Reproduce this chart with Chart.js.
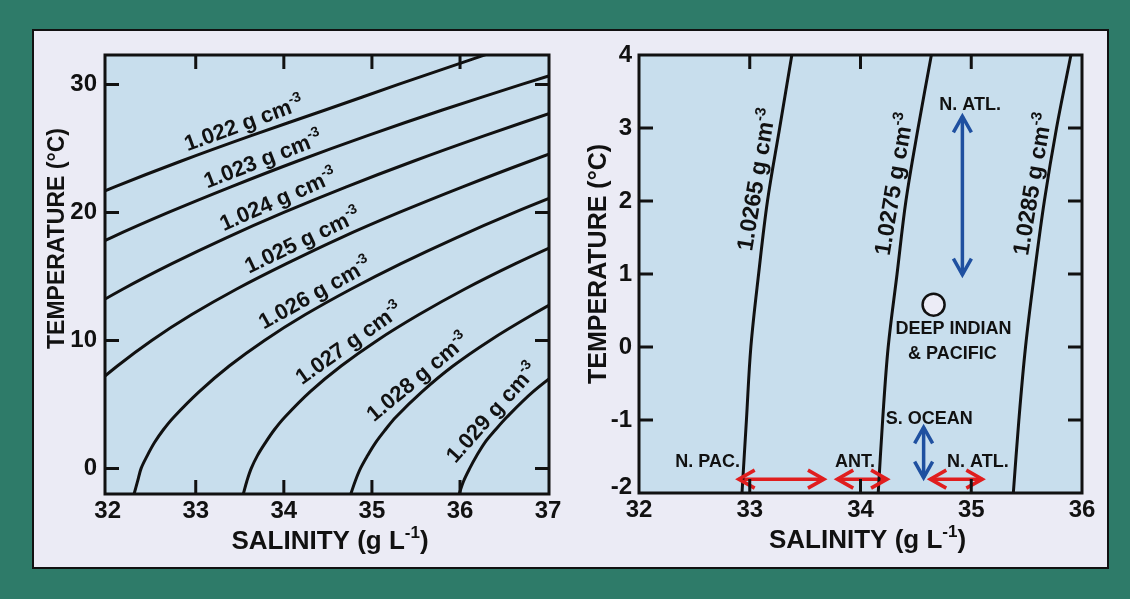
<!DOCTYPE html>
<html>
<head>
<meta charset="utf-8">
<script src="https://cdn.jsdelivr.net/npm/chart.js@4.4.0/dist/chart.umd.min.js"></script>
<style>
  html, body { margin:0; padding:0; width:1130px; height:599px; overflow:hidden; background:#2e7b69; }
  #panel { position:absolute; left:32px; top:29px; width:1077px; height:540px; box-sizing:border-box;
           background:#ebebf5; border:2px solid #111; }
  canvas { position:absolute; top:0; }
  #cL { left:0; }
  #cR { left:580px; }
</style>
</head>
<body>
<div id="panel"></div>
<canvas id="cL" width="580" height="599"></canvas>
<canvas id="cR" width="550" height="599"></canvas>
<script>
// ------------------------------------------------------------------
// DATA
// ------------------------------------------------------------------
// Left panel: isopycnals, salinity (g/L) at each temperature level (°C)
const tempLevels = [-2, -1, 0, 1, 2, 3, 4, 6, 8, 10, 12, 14, 16, 18, 20, 22, 24, 26, 28, 30, 32, 34];
const sal1022 = [null, null, null, null, null, null, null, null, null, null, null, null, null, null, 31.38, 32.08, 32.83, 33.63, 34.47, 35.30, 36.15, 37.00];
const sal1023 = [null, null, null, null, null, null, null, null, null, null, null, null, 31.43, 32.03, 32.69, 33.40, 34.15, 34.95, 35.80, 36.70, 37.63, null];
const sal1024 = [null, null, null, null, null, null, null, null, null, 31.22, 31.67, 32.17, 32.73, 33.34, 34.00, 34.71, 35.47, 36.28, 37.13, null, null, null];
const sal1025 = [null, null, null, null, null, null, 31.50, 31.77, 32.11, 32.50, 32.95, 33.46, 34.03, 34.64, 35.31, 36.03, 36.79, 37.60, null, null, null, null];
const sal1026 = [32.30, 32.34, 32.38, 32.45, 32.53, 32.63, 32.75, 33.04, 33.38, 33.78, 34.24, 34.76, 35.33, 35.95, 36.62, 37.34, null, null, null, null, null, null];
const sal1027 = [33.54, 33.58, 33.63, 33.70, 33.79, 33.89, 34.01, 34.30, 34.65, 35.06, 35.53, 36.05, 36.63, 37.26, null, null, null, null, null, null, null, null];
const sal1028 = [34.76, 34.81, 34.87, 34.95, 35.04, 35.15, 35.27, 35.57, 35.92, 36.34, 36.82, 37.34, null, null, null, null, null, null, null, null, null, null];
const sal1029 = [35.99, 36.04, 36.11, 36.19, 36.28, 36.40, 36.53, 36.83, 37.20, null, null, null, null, null, null, null, null, null, null, null, null, null];
const densLabelsL = ['1.022', '1.023', '1.024', '1.025', '1.026', '1.027', '1.028', '1.029'];
const salTicksL = [32, 33, 34, 35, 36, 37];
const tempTicksL = [0, 10, 20, 30];

// Right panel: deep-water isopycnals
const tempLevelsR = [-2, -1, 0, 1, 2, 3, 4];
const sal10265 = [32.93, 32.97, 33.01, 33.08, 33.16, 33.27, 33.38];
const sal10275 = [34.16, 34.20, 34.25, 34.33, 34.41, 34.52, 34.64];
const sal10285 = [35.38, 35.43, 35.49, 35.57, 35.66, 35.77, 35.90];
const densLabelsR = ['1.0265', '1.0275', '1.0285'];
const salTicksR = [32, 33, 34, 35, 36];
const tempTicksR = [-2, -1, 0, 1, 2, 3, 4];

// Water-mass ranges (arrows): salinity and temperature of both ends
const nAtlTempS = [34.92, 34.92];  const nAtlTempT = [0.99, 3.16];
const sOceanS   = [34.57, 34.57];  const sOceanT   = [-1.79, -1.10];
const nPacS     = [32.90, 33.67];  const nPacT     = [-1.81, -1.81];
const antS      = [33.79, 34.24];  const antT      = [-1.81, -1.81];
const nAtlSalS  = [34.63, 35.10];  const nAtlSalT  = [-1.81, -1.81];
// Deep Indian & Pacific water
const deepS = [34.66];  const deepT = [0.58];
// Region names and where they sit
const regionNames = ['N. ATL.', 'DEEP INDIAN', '& PACIFIC', 'S. OCEAN', 'N. PAC.', 'ANT.', 'N. ATL.'];
const regionS     = [34.99, 34.84, 34.83, 34.62, 32.62, 33.95, 35.06];
const regionT     = [3.33, 0.26, -0.08, -0.97, -1.56, -1.55, -1.56];

// ------------------------------------------------------------------
// STYLE
// ------------------------------------------------------------------
const FONT = "'Liberation Sans', Arial, Helvetica, sans-serif";
const INK = '#111111';
const PLOT_BG = '#c8deed';
const BLUE = '#1f50a0';
const RED = '#e01e1e';

function pts(xs, ys) {
  const out = [];
  xs.forEach((x, i) => { if (x != null && ys[i] != null) out.push({ x: x, y: ys[i] }); });
  return out;
}
function curveDs(xs, ys) {
  return { data: pts(xs, ys), showLine: true, borderColor: INK, borderWidth: 3, pointRadius: 0,
           tension: 0.35, fill: false };
}
function arrowDs(xs, ys, color) {
  return { data: pts(xs, ys), showLine: true, borderColor: color, borderWidth: 3.5, pointRadius: 0,
           fill: false, arrow: true };
}

function drawRich(ctx, parts, size, x, y, align) {
  const main = `bold ${size}px ${FONT}`;
  const sup = `bold ${Math.round(size * 0.64)}px ${FONT}`;
  let w = 0;
  const ws = parts.map(([t, s]) => { ctx.font = s ? sup : main; const m = ctx.measureText(t).width; w += m; return m; });
  let cx = align === 'center' ? x - w / 2 : (align === 'right' ? x - w : x);
  ctx.textAlign = 'left';
  ctx.textBaseline = 'alphabetic';
  parts.forEach(([t, s], i) => {
    ctx.font = s ? sup : main;
    ctx.fillText(t, cx, s ? y - size * 0.42 : y);
    cx += ws[i];
  });
}

function pointOnPath(points, axis, pix) {
  for (let i = 0; i < points.length - 1; i++) {
    const p = points[i], q = points[i + 1];
    const lo = Math.min(p[axis], q[axis]), hi = Math.max(p[axis], q[axis]);
    if (pix >= lo && pix <= hi) {
      const f = (pix - p[axis]) / ((q[axis] - p[axis]) || 1);
      return { x: p.x + f * (q.x - p.x), y: p.y + f * (q.y - p.y), a: Math.atan2(q.y - p.y, q.x - p.x) };
    }
  }
  return null;
}

const framePlugin = {
  id: 'frame',
  beforeDatasetsDraw(chart, args, o) {
    const { ctx, chartArea: a } = chart;
    ctx.save();
    ctx.fillStyle = PLOT_BG;
    ctx.fillRect(a.left, a.top, a.right - a.left, a.bottom - a.top);
    ctx.restore();
  },
  afterDatasetsDraw(chart, args, o) {
    const { ctx, chartArea: a } = chart;
    const xs = chart.scales.x, ys = chart.scales.y;
    ctx.save();
    // arrow heads
    chart.data.datasets.forEach((ds, i) => {
      if (!ds.arrow) return;
      const el = chart.getDatasetMeta(i).data;
      const A = el[0], B = el[el.length - 1];
      [[B, A], [A, B]].forEach(([tip, from]) => {
        const dx = tip.x - from.x, dy = tip.y - from.y, len = Math.hypot(dx, dy) || 1;
        const ux = dx / len, uy = dy / len, L = o.headLen, W = o.headHalf;
        ctx.beginPath();
        ctx.moveTo(tip.x - ux * L - uy * W, tip.y - uy * L + ux * W);
        ctx.lineTo(tip.x, tip.y);
        ctx.lineTo(tip.x - ux * L + uy * W, tip.y - uy * L - ux * W);
        ctx.strokeStyle = ds.borderColor;
        ctx.lineWidth = ds.borderWidth;
        ctx.lineJoin = 'miter';
        ctx.stroke();
      });
    });
    // inward ticks on all four sides + frame
    const TL = 14;
    ctx.strokeStyle = INK;
    ctx.lineWidth = 3;
    ctx.beginPath();
    xs.ticks.forEach(t => {
      const px = xs.getPixelForValue(t.value);
      if (px < a.left + 4 || px > a.right - 4) return;
      ctx.moveTo(px, a.bottom); ctx.lineTo(px, a.bottom - TL);
      ctx.moveTo(px, a.top); ctx.lineTo(px, a.top + TL);
    });
    ys.ticks.forEach(t => {
      const py = ys.getPixelForValue(t.value);
      if (py < a.top + 4 || py > a.bottom - 4) return;
      ctx.moveTo(a.left, py); ctx.lineTo(a.left + TL, py);
      ctx.moveTo(a.right, py); ctx.lineTo(a.right - TL, py);
    });
    ctx.stroke();
    ctx.strokeRect(a.left, a.top, a.right - a.left, a.bottom - a.top);

    ctx.fillStyle = INK;
    // labels along the isopycnals
    (o.curveLabels || []).forEach(l => {
      const el = chart.getDatasetMeta(l.ds).data;
      const pix = l.axis === 'x' ? xs.getPixelForValue(l.at) : ys.getPixelForValue(l.at);
      const p = pointOnPath(el, l.axis, pix);
      if (!p) return;
      let ang = p.a;
      if (ang > Math.PI / 2) ang -= Math.PI;
      if (ang < -Math.PI / 2) ang += Math.PI;
      ctx.save();
      ctx.translate(p.x, p.y);
      ctx.rotate(ang);
      drawRich(ctx, [[l.text + ' g cm', false], ['-3', true]], o.labelSize, 0, -o.labelOff, 'center');
      ctx.restore();
    });
    // region names
    (o.texts || []).forEach(t => {
      const px = xs.getPixelForValue(t.x), py = ys.getPixelForValue(t.y);
      drawRich(ctx, [[t.text, false]], o.textSize, px, py + o.textSize * 0.358, 'center');
    });
    // axis titles
    const midX = (a.left + a.right) / 2, midY = (a.top + a.bottom) / 2;
    drawRich(ctx, [['SALINITY (g L', false], ['-1', true], [')', false]], o.xTitleSize,
             midX + o.xTitleDX, a.bottom + o.xTitleDY + o.xTitleSize * 0.358, 'center');
    ctx.save();
    ctx.translate(a.left - o.yTitleDX, midY + o.yTitleDY);
    ctx.rotate(-Math.PI / 2);
    drawRich(ctx, [['TEMPERATURE (°C)', false]], o.yTitleSize, 0, o.yTitleSize * 0.358, 'center');
    ctx.restore();
    ctx.restore();
  }
};

function axis(min, max, ticks, fitSize, pad) {
  return {
    type: 'linear', min: min, max: max,
    afterBuildTicks: s => { s.ticks = ticks.map(v => ({ value: v })); },
    afterFit: s => { if (s.isHorizontal()) s.height = fitSize; else s.width = fitSize; },
    grid: { display: false, drawTicks: false },
    border: { display: false },
    ticks: { autoSkip: false, maxRotation: 0, padding: pad, color: INK,
             font: { family: FONT, size: 24, weight: 'bold' } }
  };
}

const common = {
  responsive: false, animation: false, devicePixelRatio: 1,
  plugins: { legend: { display: false }, tooltip: { enabled: false } },
  events: []
};

// ---------------- left chart ----------------
const salL = [sal1022, sal1023, sal1024, sal1025, sal1026, sal1027, sal1028, sal1029];
const labelAtL = [33.60, 33.82, 34.00, 34.28, 34.43, 34.83, 35.62, 36.48];
new Chart(document.getElementById('cL'), {
  type: 'scatter',
  data: { datasets: salL.map(s => curveDs(s, tempLevels)) },
  options: Object.assign({}, common, {
    layout: { padding: { left: 0, top: 55, right: 31, bottom: 45 } },
    scales: {
      x: Object.assign(axis(31.97, 37.01, salTicksL, 60, 3), { position: 'bottom' }),
      y: Object.assign(axis(-2, 32.3, tempTicksL, 105, 8), { position: 'left' })
    },
    plugins: Object.assign({}, common.plugins, {
      frame: {
        headLen: 14, headHalf: 9, labelSize: 22, labelOff: 7, textSize: 18,
        xTitleSize: 26, xTitleDX: 3, xTitleDY: 46,
        yTitleSize: 23, yTitleDX: 49, yTitleDY: -36,
        curveLabels: densLabelsL.map((t, i) => ({ ds: i, at: labelAtL[i], axis: 'x', text: t }))
      }
    })
  }),
  plugins: [framePlugin]
});

// ---------------- right chart ----------------
const salR = [sal10265, sal10275, sal10285];
const labelAtR = [2.26, 2.2, 2.2];
const dsR = salR.map(s => curveDs(s, tempLevelsR));
dsR.push(arrowDs(nAtlTempS, nAtlTempT, BLUE));
dsR.push(arrowDs(sOceanS, sOceanT, BLUE));
dsR.push(arrowDs(nPacS, nPacT, RED));
dsR.push(arrowDs(antS, antT, RED));
dsR.push(arrowDs(nAtlSalS, nAtlSalT, RED));
dsR.push({ data: pts(deepS, deepT), showLine: false, pointRadius: 11, pointBackgroundColor: '#ececf6',
           pointBorderColor: INK, pointBorderWidth: 2.5 });

const yAxisR = Object.assign(axis(-2, 4, tempTicksR, 59, 7), { position: 'left' });
yAxisR.ticks.font.lineHeight = 0.5;
// the lowest label sits a little above its tick (as in the original), via a two-line label
yAxisR.ticks.callback = v => (v === -2 ? ['-2', ''] : String(v));

new Chart(document.getElementById('cR'), {
  type: 'scatter',
  data: { datasets: dsR },
  options: Object.assign({}, common, {
    layout: { padding: { left: 0, top: 55, right: 48, bottom: 46 } },
    scales: {
      x: Object.assign(axis(32, 36, salTicksR, 60, 3), { position: 'bottom' }),
      y: yAxisR
    },
    plugins: Object.assign({}, common.plugins, {
      frame: {
        headLen: 16, headHalf: 9, labelSize: 23, labelOff: 7, textSize: 18,
        xTitleSize: 26, xTitleDX: 7, xTitleDY: 46,
        yTitleSize: 25, yTitleDX: 42, yTitleDY: -10,
        curveLabels: densLabelsR.map((t, i) => ({ ds: i, at: labelAtR[i], axis: 'y', text: t })),
        texts: regionNames.map((t, i) => ({ text: t, x: regionS[i], y: regionT[i] }))
      }
    })
  }),
  plugins: [framePlugin]
});
</script>
</body>
</html>
